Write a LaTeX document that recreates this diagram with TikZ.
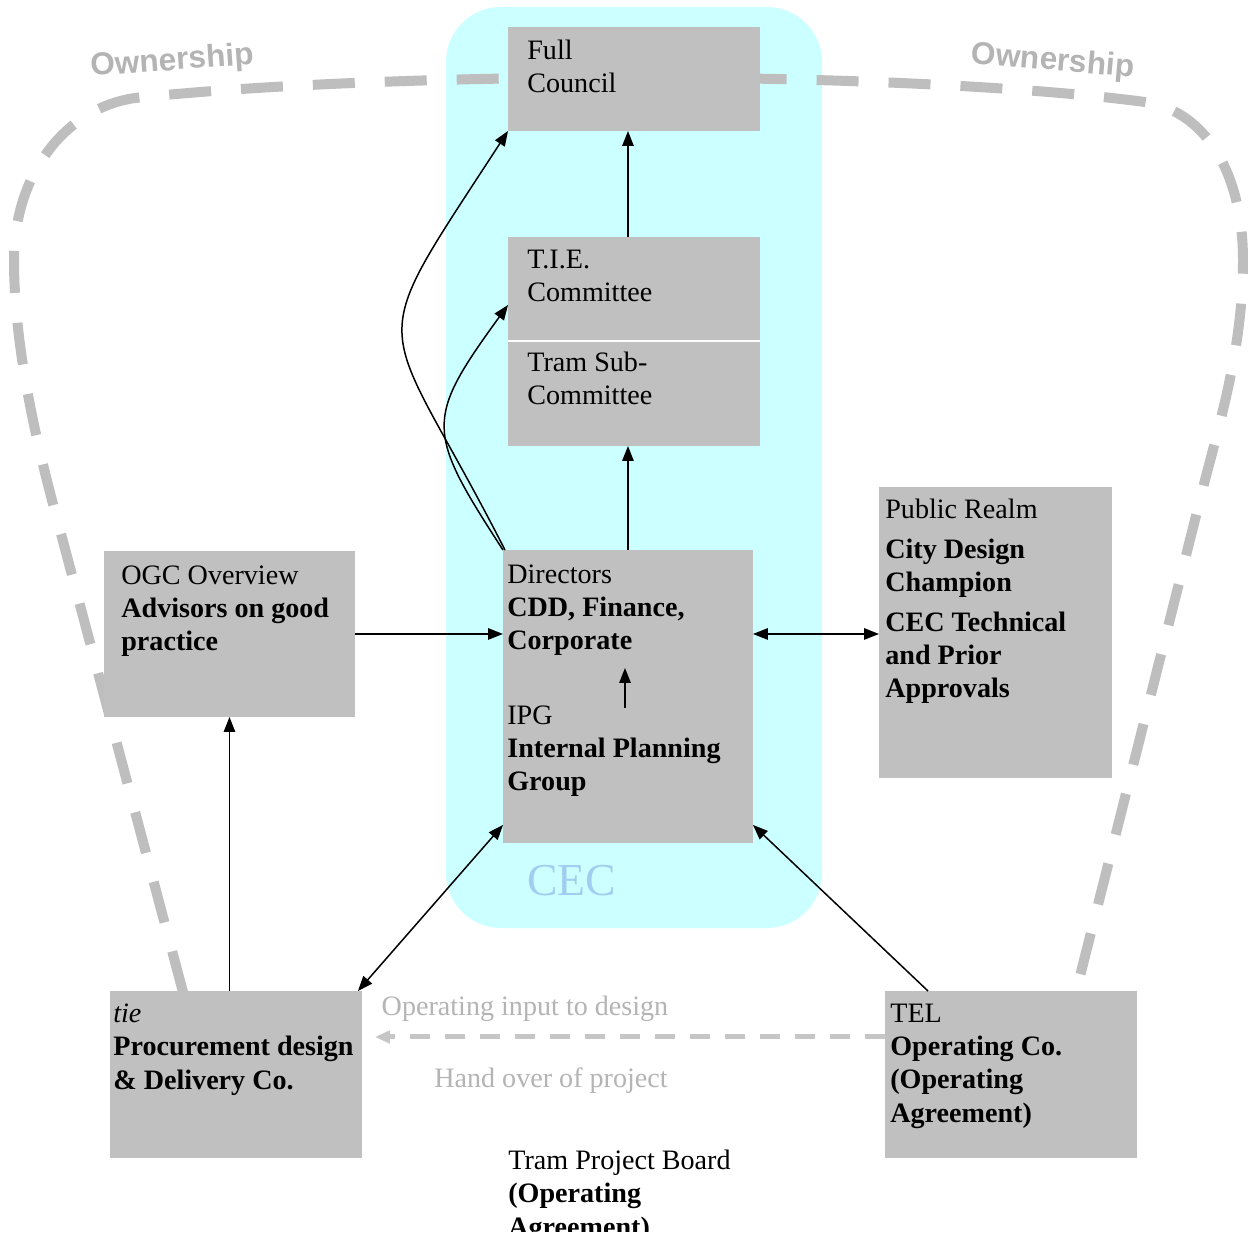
\documentclass[tikz,border=0pt]{standalone}
\usepackage{fontspec}
\setmainfont{Liberation Serif}
\newfontfamily\ownfont{Liberation Sans}
\usetikzlibrary{arrows.meta}
\definecolor{cecbg}{RGB}{204,255,255}
\definecolor{boxgray}{RGB}{192,192,192}
\definecolor{dashgray}{RGB}{190,190,190}
\definecolor{owngray}{RGB}{180,180,180}
\definecolor{arrowgray}{RGB}{198,198,198}
\definecolor{labelgray}{RGB}{180,180,180}
\definecolor{cecblue}{RGB}{160,205,240}
\begin{document}
\begin{tikzpicture}[x=0.02cm, y=-0.02cm,
  box/.style={fill=boxgray, inner sep=0pt, outer sep=0pt, anchor=north west},
  txt/.style={anchor=base west, align=left, inner sep=0pt, font=\fontsize{16}{18.8}\selectfont},
  lbl/.style={anchor=base, inner sep=0pt, text=labelgray, font=\fontsize{16}{18.8}\selectfont},
  conn/.style={line width=0.85pt, -{Triangle[length=8.5pt,width=6.5pt]}},
  biconn/.style={line width=0.85pt, {Triangle[length=8.5pt,width=6.5pt]}-{Triangle[length=8.5pt,width=6.5pt]}},
  outline/.style={draw=dashgray, line width=0.2cm, dash pattern=on 0.84cm off 0.6cm},
  graydash/.style={draw=arrowgray, line width=0.1cm, dash pattern=on 0.4cm off 0.3cm, -{Triangle[length=8.5pt,width=7pt]}},
  own/.style={font=\ownfont\bfseries\fontsize{18}{20}\selectfont, text=owngray, inner sep=0pt}
]
\useasboundingbox[fill=white] (0,0) rectangle (1248,1239);
% CEC background
\fill[cecbg, rounded corners=1.1cm] (446,7) rectangle (822,928);
% ownership outline
\draw[outline] (183,992) -- (60,530) .. controls (38,450) and (14,350) .. (14,260)
  .. controls (14,175) and (65,108) .. (135,98)
  .. controls (400,70) and (900,70) .. (1145,102)
  .. controls (1210,112) and (1243,180) .. (1243,260)
  .. controls (1243,340) and (1224,408) .. (1205,480) -- (1076,992);
\node[own, rotate=4] (ownL) at (172,62) {Ownership};
\node[own, rotate=-5] (ownR) at (1053,62) {Ownership};
% boxes
\node[box, minimum width=5.04cm, minimum height=2.08cm] (full) at (508,27) {};
\node[box, minimum width=5.04cm, minimum height=2.08cm] (tiec) at (508,237) {};
\node[box, minimum width=5.04cm, minimum height=2.1cm] (tram) at (508,341) {};
\draw[white, line width=1.2pt] (tram.north west) -- (tram.north east);
\node[box, minimum width=5cm, minimum height=5.86cm] (dir) at (503,550) {};
\node[box, minimum width=5.02cm, minimum height=3.32cm] (ogc) at (104,551) {};
\node[box, minimum width=4.66cm, minimum height=5.82cm] (pub) at (879,487) {};
\node[box, minimum width=5.04cm, minimum height=3.34cm] (tiebox) at (110,991) {};
\node[box, minimum width=5.04cm, minimum height=3.34cm] (tel) at (885,991) {};
% texts (anchor = baseline of the last line)
\node[txt] (fulltxt) at (527,93) {Full\\Council};
\node[txt] (tiectxt) at (527,302) {T.I.E.\\Committee};
\node[txt] (tramtxt) at (527,405) {Tram Sub-\\Committee};
\node[txt] (dirtxt) at (507,650) {Directors\\\textbf{CDD, Finance,}\\\textbf{Corporate}};
\node[txt] (ipgtxt) at (507,791) {IPG\\\textbf{Internal Planning}\\\textbf{Group}};
\node[txt] (ogctxt) at (121,651) {OGC Overview\\\textbf{Advisors on good}\\\textbf{practice}};
\node[txt] (pubtxt) at (885,698) {Public Realm\\[4pt]\textbf{City Design}\\\textbf{Champion}\\[4pt]\textbf{CEC Technical}\\\textbf{and Prior}\\\textbf{Approvals}};
\node[txt] (tietxt) at (113,1089) {\textit{tie}\\\textbf{Procurement design}\\\textbf{\& Delivery Co.}};
\node[txt] (teltxt) at (890,1122) {TEL\\\textbf{Operating Co.}\\\textbf{(Operating}\\\textbf{Agreement)}};
\node[anchor=base west, inner sep=0pt, font=\fontsize{26}{30}\selectfont, text=cecblue] (cec) at (527,895) {CEC};
\node[lbl] (opin) at (525,1015) {Operating input to design};
\node[lbl] (hand) at (551,1087) {Hand over of project};
\begin{scope}
\clip (0,0) rectangle (1248,1231);
\node[txt] (board) at (508,1236) {Tram Project Board\\\textbf{(Operating}\\\textbf{Agreement)}};
\end{scope}
% connectors
\draw[conn] (tiec.north -| dir.north) -- (full.south -| dir.north);
\draw[conn] (dir.north) -- (dir.north |- tram.south);
\draw[conn] ([xshift=0.04cm]dir.north west) .. controls +(117:5.52cm) and +(-123:5.52cm) .. (full.south west);
\draw[conn] (dir.north west) .. controls +(123:2.84cm) and +(-126:2.84cm) .. ([yshift=-0.32cm]tiec.west);
\draw[conn] (ogc.east) -- (ogc.east -| dir.west);
\draw[biconn] (dir.east |- ogc.east) -- (pub.west |- ogc.east);
\coordinate (ipgup) at (625,708);
\coordinate (dirdown) at (625,668);
\draw[conn] (ipgup) -- (dirdown);
\draw[conn] (ogc.south |- tiebox.north) -- (ogc.south);
\draw[biconn] ([xshift=-0.08cm]tiebox.north east) -- ([yshift=0.36cm]dir.south west);
\draw[conn] ([xshift=0.86cm]tel.north west) -- ([yshift=0.36cm]dir.south east);
\draw[graydash] ([yshift=0.75cm]tel.west) -- ([yshift=0.75cm,xshift=0.26cm]tiebox.east);
\end{tikzpicture}
\end{document}
